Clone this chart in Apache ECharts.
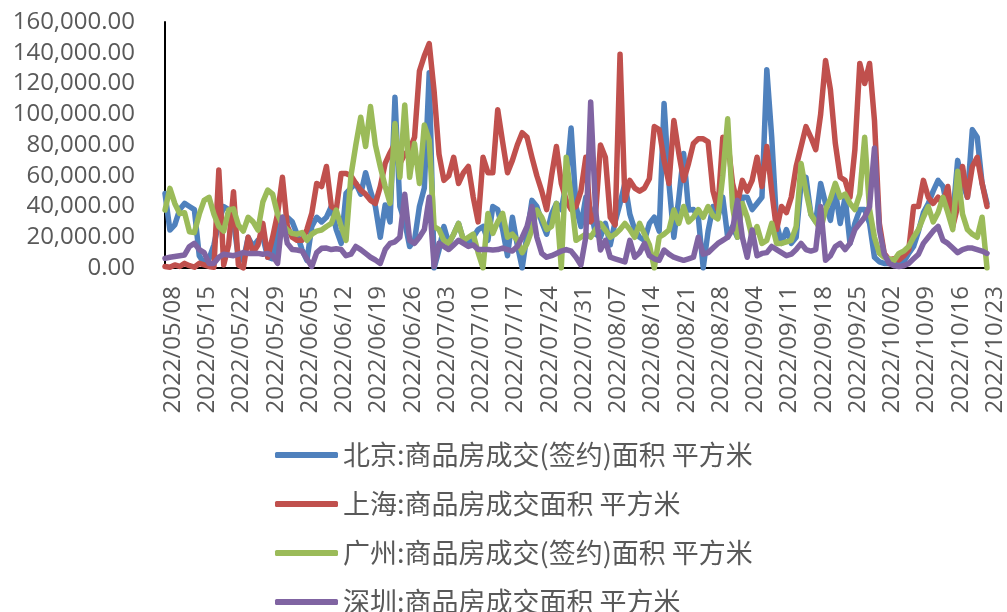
<!DOCTYPE html>
<html>
<head>
<meta charset="utf-8">
<script src="https://cdn.jsdelivr.net/npm/echarts@6/dist/echarts.min.js"></script>
<style>
html,body{margin:0;padding:0;background:#fff;}
#chart{width:1007px;height:612px;}
</style>
</head>
<body>
<div id="chart"></div>
<script>
// Categories: daily dates from 2022/05/08 to 2022/10/23
const startDate = '2022/05/08';
const dayCount = 169;
function buildDates(start, n) {
  const p = start.split('/').map(Number);
  const out = [];
  for (let i = 0; i < n; i++) {
    const d = new Date(p[0], p[1] - 1, p[2] + i);
    const mm = String(d.getMonth() + 1).padStart(2, '0');
    const dd = String(d.getDate()).padStart(2, '0');
    out.push(d.getFullYear() + '/' + mm + '/' + dd);
  }
  return out;
}
const categories = buildDates(startDate, dayCount);

const seriesNames = [
  '北京:商品房成交(签约)面积 平方米',
  '上海:商品房成交面积 平方米',
  '广州:商品房成交(签约)面积 平方米',
  '深圳:商品房成交面积 平方米'
];

const beijing = [
48500,24700,28000,38000,42000,40000,38000,8000,3000,6000,
15000,30000,40000,38000,30000,7000,5000,20000,14000,18000,
20000,7000,6000,22000,33000,33000,30000,22000,12000,5000,
27000,33000,30000,33000,40000,25000,16000,48500,52000,55000,
48000,62000,50000,40000,20000,41000,30000,111000,40000,30000,
14000,18000,40000,52000,127000,0,11700,27000,16000,22000,
29000,18000,15000,20000,25000,27000,18000,40000,38000,25000,
8000,33000,15000,0,22000,44000,40000,30000,22000,35000,
42000,38000,55000,91000,40000,27000,46000,38000,22000,20000,
29000,15000,30000,42000,55000,35000,25000,20000,18000,29000,
33000,24000,107000,55000,20000,45000,74500,37700,38000,33000,
0,24000,40000,33000,46000,20000,27000,20000,46000,46000,
38000,42000,46000,129000,85000,29000,16000,25000,16000,20000,
55000,59000,35000,30000,55000,42000,31000,50000,29000,46000,
16000,29000,38000,38000,29000,7000,4000,3000,3000,2500,
3000,4000,9500,14000,24000,36000,42000,50000,57000,53000,
38000,33000,70000,55000,46000,90000,85000,55000,42000];

const shanghai = [
1000,500,2000,1000,3000,1500,500,3000,2000,1000,
500,63700,2000,15000,49600,2000,0,20000,10000,15000,
29000,7000,20000,35000,59000,27000,20000,18000,18000,25000,
35500,55000,53000,66000,40000,38000,61500,61500,60000,55000,
50700,48000,44000,42000,53000,68000,75000,81000,68000,74000,
77000,85000,128000,138000,146000,115000,74000,57000,60000,72000,
55000,62000,66000,46000,30000,72000,62000,62000,103000,82000,
62000,70000,80000,88000,85000,72000,60000,50000,38000,60000,
79000,55000,44000,38000,40000,50000,72000,30000,35000,80000,
72000,33000,28000,139000,44000,57000,52000,50000,52000,58000,
92000,90000,70000,55000,96000,75000,57000,68000,81000,84000,
84000,82000,50000,38000,85000,83000,55000,42000,57000,50000,
57000,72000,53000,79000,50000,25000,40000,36000,46000,66000,
79000,92000,85000,77000,100000,135000,116000,81000,59000,57000,
46000,77000,133000,120000,133000,96000,29000,9500,5200,6000,
5200,8000,11700,40000,40000,57000,46000,42000,46000,42000,
53000,27000,40000,66000,46000,66000,72000,55000,40000];

const guangzhou = [
37700,51800,42000,35500,36000,23600,23000,35000,44000,46000,
35000,27000,24000,37700,38500,28000,24000,33000,30000,24700,
43000,50700,48000,35000,28000,24700,22500,22000,23000,18000,
22000,24000,24700,27000,29000,37700,27000,18000,60000,80000,
98000,79000,105000,80000,66000,53000,42000,94000,59000,106000,
59000,81000,55000,93000,83000,27000,25000,18000,16000,22000,
29000,18000,20000,22000,10000,0,35500,22500,30000,35500,
20000,22000,18000,10000,16000,25000,37700,33000,25000,27000,
42000,0,72000,46000,18000,20000,22000,20000,25000,29000,
24700,20000,22000,25000,29000,25000,20000,29000,22000,15000,
0,20000,22000,24700,37700,29000,40000,30000,33000,38000,
33000,40000,34000,32000,60000,97000,40000,20000,42000,33000,
20000,27000,16000,18000,29000,16000,16000,17000,18000,27000,
68000,50000,35000,30000,25000,38000,45000,55000,46000,48000,
42000,38000,48000,85000,38000,20000,9500,7000,6000,5000,
9500,11000,14000,20000,25000,33000,40000,30000,36000,46000,
36000,25000,63000,35000,25000,22000,20000,33000,0];

const shenzhen = [
6300,7000,7500,8000,8500,14000,16000,12000,10000,3000,
3000,7000,9000,8500,8000,9000,10000,9500,9500,9500,
9000,9500,8000,3000,33000,16000,12000,11700,11000,6000,
1000,10000,12800,13000,12000,12500,12000,8000,9000,14000,
12000,9500,7000,5200,3000,12000,16000,17000,20000,48000,
18000,16000,20000,25000,46000,1000,16000,14000,12000,15000,
18000,16000,14000,15000,12000,12000,12000,11700,12000,13000,
12000,11000,14000,20000,27000,40000,20000,9500,7000,8000,
9500,11000,12000,11000,7000,2000,20000,108000,37700,11700,
18000,7000,6000,5000,4000,18000,7000,10000,16000,8000,
6000,5000,11700,9000,7000,6000,5000,6000,7000,20000,
9000,10000,13000,16000,18000,20000,25000,44000,20000,7000,
24700,8000,9500,10000,14000,12000,10000,8000,9000,12000,
16000,12000,11000,12000,40000,5000,8000,14000,16000,12000,
16000,25000,29000,33000,40000,78000,25000,9000,3000,1500,
1000,1500,3000,6000,9000,16000,20000,24000,27000,18000,
16000,13000,10000,12000,13000,13000,12000,11000,9500];

const yTicks = { min: 0, max: 160000, interval: 20000 };
const colors = ['#4F81BD', '#C0504D', '#9BBB59', '#8064A2'];

function fmt(v) {
  const s = Number(v).toFixed(2);
  const parts = s.split('.');
  parts[0] = parts[0].replace(/\B(?=(\d{3})+(?!\d))/g, ',');
  return parts.join('.');
}

const chart = echarts.init(document.getElementById('chart'), null, { renderer: 'canvas' });
const dataSets = [beijing, shanghai, guangzhou, shenzhen];

chart.setOption({
  animation: false,
  backgroundColor: '#ffffff',
  grid: { left: 165, right: 12, top: 22, bottom: 344, containLabel: false },
  legend: {
    data: seriesNames,
    orient: 'vertical',
    left: 275,
    top: 440,
    height: 260,
    padding: 0,
    itemGap: 19,
    itemWidth: 63,
    itemHeight: 6,
    icon: 'roundRect',
    textStyle: {
      fontFamily: 'Noto Sans CJK SC',
      fontSize: 27,
      color: '#595959',
      lineHeight: 30
    }
  },
  xAxis: {
    type: 'category',
    data: categories,
    boundaryGap: false,
    axisLine: { show: true, lineStyle: { color: '#000000', width: 2 } },
    axisTick: { show: false },
    splitLine: { show: false },
    axisLabel: {
      interval: 6,
      rotate: 90,
      margin: 18,
      fontFamily: 'Open Sans',
      fontSize: 24,
      color: '#595959',
      verticalAlign: 'top',
      lineHeight: 16
    }
  },
  yAxis: {
    type: 'value',
    min: yTicks.min,
    max: yTicks.max,
    interval: yTicks.interval,
    axisLine: { show: true, lineStyle: { color: '#000000', width: 2 } },
    axisTick: { show: false },
    splitLine: { show: false },
    axisLabel: {
      margin: 30,
      fontFamily: 'Open Sans',
      fontSize: 24,
      color: '#595959',
      formatter: fmt
    }
  },
  series: seriesNames.map((name, k) => ({
    name: name,
    type: 'line',
    data: dataSets[k],
    symbol: 'none',
    smooth: false,
    color: colors[k],
    lineStyle: { width: 5.5, color: colors[k], join: 'round', cap: 'round' },
    emphasis: { disabled: true }
  }))
});
</script>
</body>
</html>
